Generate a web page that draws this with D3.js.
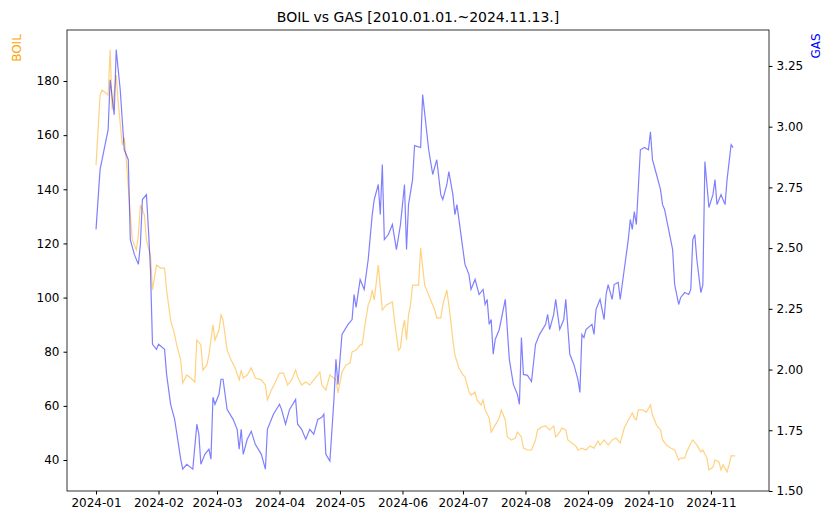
<!DOCTYPE html>
<html><head><meta charset="utf-8">
<script src="https://cdn.jsdelivr.net/npm/d3@7"></script>
<style>body{margin:0;background:#fff}text{font-family:"DejaVu Sans",sans-serif}</style>
</head><body><svg id="chart" width="833" height="526"></svg>
<script>
// [day offset from 2024-01-01, value]
let boilSeries = [[0,149],[2,174.8],[3,176.7],[6,174.8],[7,191.5],[8,169.3],[10,182.2],[11,172.1],[13,156.3],[14,159.2],[15,150.8],[17,130.5],[18,121.3],[20,117.6],[21,123.1],[22,134.2],[24,130.5],[25,121.3],[27,115.7],[28,102.8],[30,112],[32,110.9],[34,110.9],[35,102.8],[37,91.7],[39,86.2],[40,82.5],[42,76.9],[43,68.4],[45,71.4],[47,70.3],[49,68.8],[50,84.3],[52,82.5],[53,73.2],[55,75.1],[56,78.8],[58,89.9],[59,84.3],[61,88],[62,93.6],[63,91.7],[65,80.6],[67,76.9],[69,74],[71,69.6],[72,73.2],[73,70.3],[75,71.4],[77,74],[79,70.3],[82,69.6],[84,67.7],[85,62.2],[87,65.9],[89,68.8],[91,72.1],[93,72.1],[95,67.7],[97,69.6],[99,73.2],[100,70.7],[102,67.7],[104,68.8],[106,67.7],[108,69.6],[110,71.4],[111,72.5],[112,67.7],[114,65.9],[116,71.4],[119,69.6],[120,64.8],[122,72.5],[124,75.1],[126,75.8],[127,79.9],[129,80.6],[131,82.5],[132,82.5],[133,88],[135,97.3],[136,99.1],[137,102.8],[138,99.1],[140,112],[142,95.4],[144,97.3],[147,98.4],[148,91.7],[150,80.6],[151,81.4],[152,88],[153,91.7],[154,84.3],[155,93.6],[156,97.3],[157,104.6],[159,104.6],[160,104.6],[161,118.3],[163,104.6],[165,101],[166,99.1],[168,95.4],[169,92.5],[171,92.5],[172,97.3],[174,102.8],[175,97.3],[176,91],[177,84.3],[178,78.8],[180,74],[182,71.4],[183,70.7],[185,65.1],[186,64],[188,65.1],[189,62.2],[191,60.3],[192,62.2],[193,58.5],[195,55.5],[196,50.3],[198,52.9],[200,55.5],[201,58.5],[203,54.8],[204,48.5],[206,47.4],[208,48.1],[209,50.3],[211,48.5],[212,44.4],[214,43.7],[216,43.7],[218,47.4],[219,51.1],[221,52.2],[223,52.6],[225,51.1],[227,52.6],[228,48.5],[230,50.3],[231,51.8],[233,51.1],[234,47.4],[236,46.3],[238,45.2],[239,43.7],[241,44.4],[243,43.7],[245,45.2],[247,44.4],[249,47],[250,45.5],[252,47.4],[254,45.5],[256,47.4],[258,48.1],[260,46.3],[262,51.8],[264,54.8],[266,57.4],[267,55.5],[268,54.8],[269,58.5],[271,58.5],[273,57.7],[275,60.3],[276,56.6],[278,52.9],[280,51.1],[281,47.4],[283,45.5],[285,44.4],[287,43.7],[289,40],[290,40.7],[292,40.7],[293,43],[295,46.3],[296,47.4],[298,45.5],[300,43],[301,43.7],[303,40.7],[304,36.3],[306,37.4],[307,40],[309,39.3],[310,36.3],[311,38.2],[313,35.6],[314,38.2],[315,41.5],[317,41.5]];
let gasSeries = [[0,2.577],[2,2.823],[4,2.905],[6,2.988],[7,3.193],[9,3.049],[10,3.317],[12,3.152],[14,2.905],[16,2.864],[17,2.535],[19,2.474],[21,2.433],[22,2.515],[23,2.7],[25,2.72],[26,2.577],[27,2.412],[28,2.104],[30,2.083],[31,2.104],[34,2.083],[35,1.98],[37,1.857],[39,1.795],[42,1.631],[43,1.59],[45,1.61],[48,1.59],[50,1.775],[51,1.734],[52,1.61],[54,1.651],[56,1.672],[57,1.631],[58,1.886],[59,1.857],[61,1.898],[62,1.96],[63,1.96],[65,1.836],[68,1.795],[70,1.754],[71,1.672],[72,1.754],[73,1.651],[75,1.713],[77,1.746],[79,1.692],[82,1.651],[84,1.59],[85,1.754],[88,1.816],[91,1.857],[92,1.836],[94,1.775],[96,1.836],[99,1.877],[100,1.775],[102,1.754],[104,1.713],[106,1.754],[108,1.734],[110,1.795],[112,1.803],[113,1.816],[114,1.651],[116,1.623],[118,1.877],[119,2.042],[120,1.939],[122,2.145],[125,2.186],[127,2.206],[128,2.309],[129,2.256],[131,2.371],[133,2.33],[135,2.453],[137,2.638],[138,2.7],[140,2.762],[141,2.638],[142,2.844],[143,2.535],[145,2.556],[147,2.597],[149,2.494],[151,2.597],[152,2.679],[153,2.762],[154,2.494],[155,2.679],[157,2.782],[158,2.922],[161,2.914],[162,3.132],[165,2.905],[167,2.803],[169,2.864],[171,2.72],[172,2.7],[174,2.762],[175,2.815],[177,2.72],[178,2.638],[179,2.679],[180,2.618],[182,2.494],[183,2.433],[185,2.391],[186,2.33],[188,2.371],[190,2.309],[192,2.33],[193,2.268],[194,2.289],[195,2.186],[196,2.206],[197,2.063],[198,2.124],[200,2.165],[203,2.289],[205,2.042],[207,1.939],[209,1.898],[210,1.857],[211,2.132],[212,1.98],[214,1.976],[216,1.951],[218,2.104],[220,2.145],[223,2.186],[224,2.227],[225,2.165],[227,2.227],[228,2.289],[230,2.165],[232,2.206],[233,2.289],[235,2.063],[237,2.021],[239,1.96],[240,1.906],[241,2.145],[242,2.132],[243,2.165],[246,2.186],[247,2.145],[248,2.248],[250,2.289],[252,2.206],[253,2.309],[254,2.35],[256,2.289],[257,2.35],[259,2.359],[260,2.289],[262,2.412],[264,2.535],[265,2.618],[266,2.577],[267,2.65],[268,2.597],[270,2.905],[272,2.914],[274,2.905],[275,2.979],[276,2.864],[278,2.803],[280,2.741],[281,2.679],[282,2.659],[284,2.577],[286,2.494],[287,2.35],[289,2.268],[290,2.297],[292,2.317],[294,2.309],[295,2.33],[296,2.535],[297,2.556],[298,2.453],[300,2.317],[301,2.35],[302,2.856],[304,2.667],[306,2.72],[307,2.782],[308,2.679],[310,2.72],[312,2.679],[313,2.782],[315,2.926],[316,2.914]];
let boilTicks = [40, 60, 80, 100, 120, 140, 160, 180];
let gasTicks = [1.50, 1.75, 2.00, 2.25, 2.50, 2.75, 3.00, 3.25];
let titleText = 'BOIL vs GAS [2010.01.01.~2024.11.13.]';

let svg = d3.select('#chart');
let plotL = 67, plotR = 769, plotT = 30, plotB = 491;
let base = Date.UTC(2024, 0, 1);
let toDate = function (d) { return new Date(base + d * 864e5); };

let x = d3.scaleUtc()
    .domain([toDate(-14.4), toDate(333.8)])
    .range([plotL, plotR]);
let yBoil = d3.scaleLinear().domain([28.55, 198.84]).range([plotB, plotT]);
let yGas = d3.scaleLinear().domain([1.5, 3.398]).range([plotB, plotT]);

let boilLine = d3.line().x(function (d) { return x(toDate(d[0])); }).y(function (d) { return yBoil(d[1]); });
let gasLine = d3.line().x(function (d) { return x(toDate(d[0])); }).y(function (d) { return yGas(d[1]); });

svg.append('path').datum(boilSeries).attr('d', boilLine)
    .attr('fill', 'none').attr('stroke', 'orange').attr('stroke-opacity', 0.5).attr('stroke-width', 1.2);
svg.append('path').datum(gasSeries).attr('d', gasLine)
    .attr('fill', 'none').attr('stroke', 'blue').attr('stroke-opacity', 0.5).attr('stroke-width', 1.2);

let months = d3.range(0, 11).map(function (m) { return new Date(Date.UTC(2024, m, 1)); });
let xAxis = svg.append('g').attr('transform', 'translate(0,' + plotB + ')')
    .call(d3.axisBottom(x).tickValues(months).tickFormat(d3.utcFormat('%Y-%m')).tickSizeOuter(0).tickSize(3.5).tickPadding(4));
let yAxisL = svg.append('g').attr('transform', 'translate(' + plotL + ',0)')
    .call(d3.axisLeft(yBoil).tickValues(boilTicks).tickSizeOuter(0).tickSize(3.5).tickPadding(4));
let yAxisR = svg.append('g').attr('transform', 'translate(' + plotR + ',0)')
    .call(d3.axisRight(yGas).tickValues(gasTicks).tickFormat(d3.format('.2f')).tickSizeOuter(0).tickSize(3.5).tickPadding(4));
[xAxis, yAxisL, yAxisR].forEach(function (g) {
    g.selectAll('text').attr('font-size', 12).attr('fill', '#000').style('font-family', 'DejaVu Sans');
    g.select('.domain').remove();
});

svg.append('rect').attr('x', plotL).attr('y', plotT).attr('width', plotR - plotL).attr('height', plotB - plotT)
    .attr('fill', 'none').attr('stroke', '#000').attr('stroke-width', 0.8);

svg.append('text').text(titleText).attr('x', (plotL + plotR) / 2).attr('y', plotT - 8)
    .attr('text-anchor', 'middle').attr('font-size', 14);
svg.append('text').text('BOIL').attr('transform', 'translate(21,' + (plotT + 18) + ') rotate(-90)')
    .attr('text-anchor', 'middle').attr('font-size', 12).attr('fill', 'orange');
svg.append('text').text('GAS').attr('transform', 'translate(820,' + (plotT + 16) + ') rotate(-90)')
    .attr('text-anchor', 'middle').attr('font-size', 12).attr('fill', 'blue');
</script></body></html>
